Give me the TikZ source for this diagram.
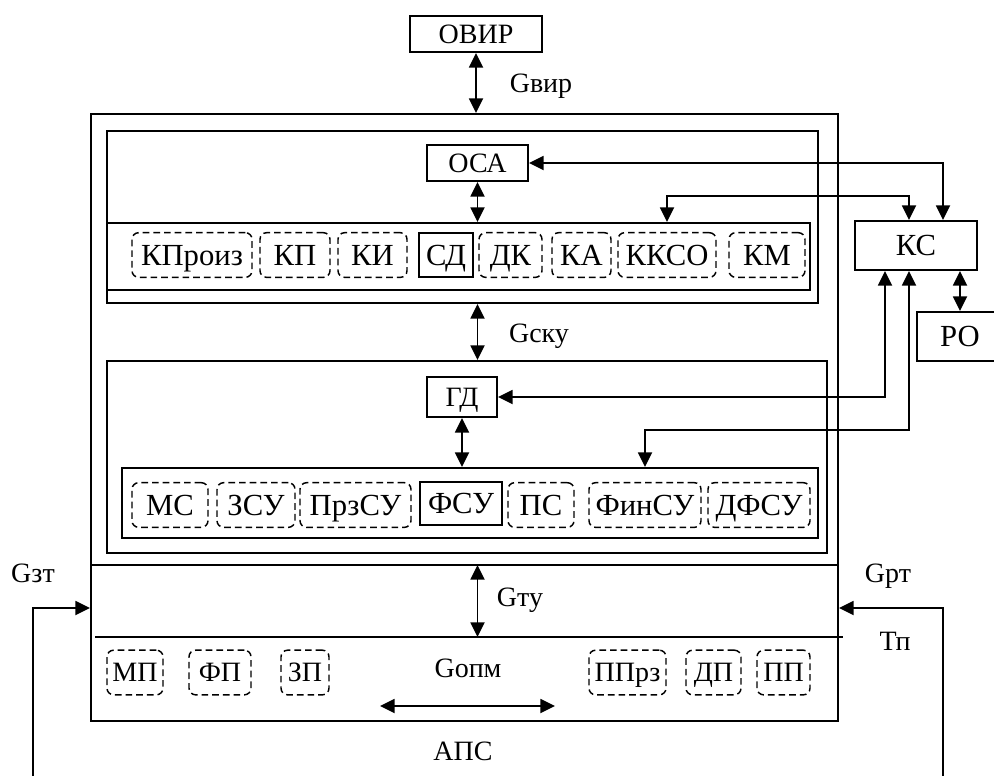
\documentclass[tikz,border=0pt]{standalone}
\usepackage{fontspec}
\setmainfont{Liberation Serif}
\usetikzlibrary{arrows.meta,fit,calc}

\tikzset{
  lab/.style={font=\fontsize{21}{25}\selectfont, text height=13.9pt},
  itm/.style={font=\fontsize{23}{27}\selectfont, text height=15.2pt},
  frame/.style={draw=black, line width=1.5pt, inner sep=0pt},
  unit/.style={draw=black, line width=1.5pt, inner sep=0pt, text depth=0pt},
  cellbox/.style={unit, itm, minimum height=33.5pt},
  cell/.style={cellbox, line width=1.1pt, dash pattern=on 5pt off 3pt, rounded corners=5pt},
  twoway/.style={{Triangle[length=11pt,width=10.5pt]}-{Triangle[length=11pt,width=10.5pt]}, line width=1.4pt},
  oneway/.style={-{Triangle[length=11pt,width=10.5pt]}, line width=1.4pt},
}

\begin{document}
\begin{tikzpicture}[x=0.75pt, y=-0.75pt]
  \useasboundingbox (0,0) rectangle (994,775);

  \node[frame, fit={(91,114) (838,721)}] (sys) {};
  \node[frame, fit={(107,131) (818,303)}] (upper) {};
  \node[frame, fit={(107,223) (810,290)}] (row1) {};
  \node[frame, fit={(107,361) (827,553)}] (lower) {};
  \node[frame, fit={(122,468) (818,538)}] (row2) {};

  \coordinate (midL) at (91,565);
  \coordinate (tpL) at (95,637);
  \coordinate (tpR) at (843,637);
  \draw[line width=1.5pt] (midL) -- (midL -| sys.east);
  \draw[line width=1.5pt] (tpL) -- (tpR);

  \node[unit, lab, minimum width=99pt, minimum height=27pt] (ovir) at (476,34) {ОВИР};
  \node[unit, lab, minimum width=75.75pt, minimum height=27pt] (osa) at (477.5,163) {ОСА};
  \node[unit, itm, minimum width=91.5pt, minimum height=36.75pt] (kc) at (916,245.5) {КС};
  \node[unit, itm, minimum width=64.5pt, minimum height=36.75pt] (po) at (960,336.5) {РО};
  \node[unit, lab, minimum width=52.5pt, minimum height=30pt] (gd) at (462,397) {ГД};

  \node[cell, minimum width=90pt] (kproiz) at (192,255) {КПроиз};
  \node[cell, minimum width=52.5pt] (kp) at (295,255) {КП};
  \node[cell, minimum width=51.75pt] (ki) at (372.5,255) {КИ};
  \node[cellbox, minimum width=40.5pt, minimum height=33pt] (sd) at (446,255) {СД};
  \node[cell, minimum width=47.25pt] (dk) at (510.5,255) {ДК};
  \node[cell, minimum width=44.25pt] (ka) at (581.5,255) {КА};
  \node[cell, minimum width=73.5pt] (kkso) at (667,255) {ККСО};
  \node[cell, minimum width=57pt] (km) at (767,255) {КМ};

  \node[cell, minimum width=57pt] (ms) at (170,505) {МС};
  \node[cell, minimum width=58.5pt] (zsu) at (256,505) {ЗСУ};
  \node[cell, minimum width=83.25pt] (przsu) at (355.5,505) {ПрзСУ};
  \node[cellbox, minimum width=61.5pt, minimum height=32.25pt] (fsu) at (461,503.5) {ФСУ};
  \node[cell, minimum width=49.5pt] (ps) at (541,505) {ПС};
  \node[cell, minimum width=84pt] (finsu) at (645,505) {ФинСУ};
  \node[cell, minimum width=76.5pt] (dfsu) at (759,505) {ДФСУ};

  \node[cell, lab, minimum width=42pt] (mp) at (135,672.5) {МП};
  \node[cell, lab, minimum width=46.5pt] (fp) at (220,672.5) {ФП};
  \node[cell, lab, minimum width=36pt] (zp) at (305,672.5) {ЗП};
  \node[cell, lab, minimum width=57.75pt] (pprz) at (627.5,672.5) {ППрз};
  \node[cell, lab, minimum width=41.25pt] (dp) at (713.5,672.5) {ДП};
  \node[cell, lab, minimum width=39.75pt] (pp) at (783.5,672.5) {ПП};

  \draw[twoway] (ovir.south) -- (ovir.south |- sys.north);
  \node[lab, anchor=base] (gvir) at (541,92) {Gвир};
  \draw[twoway] (osa.south) -- (osa.south |- row1.north);
  \draw[twoway] (osa.east) -| ($(kc.north)+(27,0)$);
  \draw[twoway] (kkso.north |- row1.north) -- ++(0,-26) -| ($(kc.north)+(-7,0)$);
  \draw[twoway] (po.north |- kc.south) -- (po.north);

  \draw[twoway] (osa.south |- upper.south) -- (osa.south |- lower.north);
  \node[lab, anchor=base] (gsku) at (539,342) {Gску};
  \draw[twoway] (gd.south) -- (gd.south |- row2.north);
  \draw[twoway] (gd.east) -| ($(kc.south)+(-31,0)$);
  \draw[twoway] (finsu.north |- row2.north) -- ++(0,-37) -| ($(kc.south)+(-7,0)$);

  \draw[twoway] (osa.south |- midL) -- (osa.south |- tpL);
  \node[lab, anchor=base] (gtu) at (520,606) {Gту};
  \node[lab, anchor=base] (gopm) at (468,677) {Gопм};
  \coordinate (opmL) at (380,706);
  \coordinate (opmR) at (555,706);
  \draw[twoway] (opmL) -- (opmR);
  \node[lab, anchor=base] (aps) at (463,760) {АПС};

  \coordinate (ztS) at (33,776);
  \coordinate (rtS) at (943,776);
  \coordinate (inY) at (0,608);
  \draw[oneway] (ztS) |- (sys.west |- inY);
  \draw[oneway] (rtS) |- (sys.east |- inY);
  \node[lab, anchor=base] (gzt) at (33,582) {Gзт};
  \node[lab, anchor=base] (grt) at (888,582) {Gрт};
  \node[lab, anchor=base] (tp) at (895,650) {Тп};
\end{tikzpicture}
\end{document}
